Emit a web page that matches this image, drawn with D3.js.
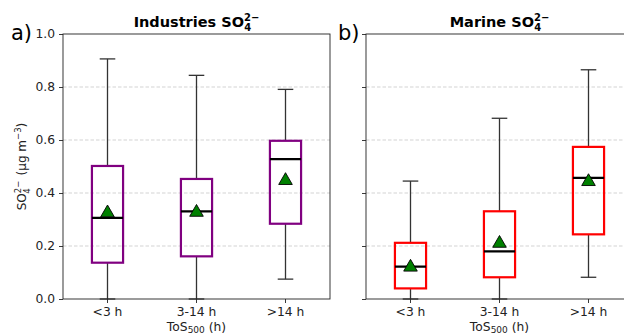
<!DOCTYPE html>
<html>
<head>
<meta charset="utf-8">
<script src="https://cdn.jsdelivr.net/npm/d3@7"></script>
<style>
  html, body { margin: 0; padding: 0; background: #fff; }
  svg { display: block; font-family: "DejaVu Sans", sans-serif; }
</style>
</head>
<body>
<svg id="chart" width="624" height="335"></svg>
<script>
// Time-over-source categories
const categories = ["<3 h", "3-14 h", ">14 h"];
const yTicks = [0.0, 0.2, 0.4, 0.6, 0.8, 1.0];

// Industries sulfate box statistics per category
const indWhiskerLow  = [0.0, 0.0, 0.075];
const indQ1          = [0.137, 0.161, 0.284];
const indMedian      = [0.306, 0.331, 0.528];
const indQ3          = [0.502, 0.453, 0.597];
const indWhiskerHigh = [0.906, 0.844, 0.791];
const indMean        = [0.325, 0.327, 0.447];

// Marine sulfate box statistics per category
const marWhiskerLow  = [0.0, 0.0, 0.082];
const marQ1          = [0.040, 0.082, 0.244];
const marMedian      = [0.122, 0.180, 0.457];
const marQ3          = [0.212, 0.331, 0.574];
const marWhiskerHigh = [0.445, 0.682, 0.865];
const marMean        = [0.120, 0.210, 0.443];

const panels = [
  { letter: "a)", title: "Industries", color: "#800080", x0: 63, x1: 330, showY: true,
    lo: indWhiskerLow, q1: indQ1, med: indMedian, q3: indQ3, hi: indWhiskerHigh, mean: indMean },
  { letter: "b)", title: "Marine", color: "#ff0000", x0: 366, x1: 633, showY: false,
    lo: marWhiskerLow, q1: marQ1, med: marMedian, q3: marQ3, hi: marWhiskerHigh, mean: marMean }
];

const svg = d3.select("#chart");
const yTop = 34, yBottom = 299;
const y = d3.scaleLinear().domain([0, 1]).range([yBottom, yTop]);

panels.forEach(p => {
  const x = d3.scaleBand().domain(categories).range([p.x0, p.x1]).paddingInner(0.65).paddingOuter(0.325);
  const cx = c => x(c) + x.bandwidth() / 2;
  const bw = x.bandwidth();
  const g = svg.append("g");

  // dashed horizontal grid
  g.append("g").selectAll("line").data(yTicks.filter(t => t > 0 && t < 1)).join("line")
    .attr("x1", p.x0).attr("x2", p.x1)
    .attr("y1", d => y(d)).attr("y2", d => y(d))
    .attr("stroke", "#c8c8c8").attr("stroke-width", 0.8).attr("stroke-dasharray", "3.5,2");

  // axes
  const yAxis = d3.axisLeft(y).tickValues(yTicks).tickSize(4).tickPadding(4)
    .tickFormat(p.showY ? d3.format(".1f") : () => "");
  const ya = g.append("g").attr("transform", `translate(${p.x0},0)`).call(yAxis);
  const xAxis = d3.axisBottom(x).tickSize(4).tickPadding(4);
  const xa = g.append("g").attr("transform", `translate(0,${yBottom})`).call(xAxis);
  [ya, xa].forEach(a => {
    a.select(".domain").remove();
    a.selectAll("line").attr("stroke", "#222").attr("stroke-width", 0.9);
    a.selectAll("text").attr("font-size", 12.3).attr("fill", "#222")
      .attr("font-family", "DejaVu Sans, sans-serif");
  });

  // box plot marks
  const idx = categories.map((c, i) => i);
  const b = g.append("g");
  // whiskers
  b.selectAll(".wl").data(idx).join("line")
    .attr("x1", i => cx(categories[i])).attr("x2", i => cx(categories[i]))
    .attr("y1", i => y(p.lo[i])).attr("y2", i => y(p.q1[i]))
    .attr("stroke", "#333").attr("stroke-width", 1.3);
  b.selectAll(".wh").data(idx).join("line")
    .attr("x1", i => cx(categories[i])).attr("x2", i => cx(categories[i]))
    .attr("y1", i => y(p.q3[i])).attr("y2", i => y(p.hi[i]))
    .attr("stroke", "#333").attr("stroke-width", 1.3);
  // caps
  [p.lo, p.hi].forEach(arr => {
    b.selectAll(null).data(idx).join("line")
      .attr("x1", i => cx(categories[i]) - bw / 4).attr("x2", i => cx(categories[i]) + bw / 4)
      .attr("y1", i => y(arr[i])).attr("y2", i => y(arr[i]))
      .attr("stroke", "#333").attr("stroke-width", 1.3);
  });
  // boxes
  b.selectAll("rect").data(idx).join("rect")
    .attr("x", i => x(categories[i])).attr("width", bw)
    .attr("y", i => y(p.q3[i])).attr("height", i => y(p.q1[i]) - y(p.q3[i]))
    .attr("fill", "none").attr("stroke", p.color).attr("stroke-width", 2.2);
  // medians
  b.selectAll(".med").data(idx).join("line")
    .attr("x1", i => x(categories[i])).attr("x2", i => x(categories[i]) + bw)
    .attr("y1", i => y(p.med[i])).attr("y2", i => y(p.med[i]))
    .attr("stroke", "#000").attr("stroke-width", 2.2);
  // means
  const tri = d3.symbol().type(d3.symbolTriangle).size(80);
  b.selectAll("path").data(idx).join("path")
    .attr("d", tri)
    .attr("transform", i => `translate(${cx(categories[i])},${y(p.mean[i])})`)
    .attr("fill", "#008000").attr("stroke", "#000").attr("stroke-width", 0.9);

  // frame
  g.append("rect").attr("x", p.x0).attr("y", yTop).attr("width", p.x1 - p.x0).attr("height", yBottom - yTop)
    .attr("fill", "none").attr("stroke", "#222").attr("stroke-width", 0.9);

  // title with sulfate formula
  const t = g.append("text").attr("x", (p.x0 + p.x1) / 2).attr("y", 27)
    .attr("text-anchor", "middle").attr("font-size", 14.5).attr("font-weight", "bold").attr("fill", "#000");
  t.append("tspan").text(p.title + " SO");
  t.append("tspan").attr("font-size", 10).attr("dy", -6).text("2\u2212");
  t.append("tspan").attr("font-size", 10).attr("dx", -15).attr("dy", 10).text("4");
  t.append("tspan").attr("font-size", 10).attr("dx", 6).attr("dy", -4).text("\u200a");

  // panel letter
  g.append("text").attr("x", p.x0 - (p.showY ? 52 : 28)).attr("y", 40)
    .attr("font-size", 21).attr("fill", "#000").text(p.letter);

  // x axis title
  const xl = g.append("text").attr("x", (p.x0 + p.x1) / 2).attr("y", 330.5)
    .attr("text-anchor", "middle").attr("font-size", 12.3).attr("fill", "#222");
  xl.append("tspan").text("ToS");
  xl.append("tspan").attr("font-size", 9).attr("dy", 2.5).text("500");
  xl.append("tspan").attr("dy", -2.5).text(" (h)");
});

// y axis title
const yl = svg.append("text")
  .attr("transform", `translate(26,${(yTop + yBottom) / 2}) rotate(-90)`)
  .attr("text-anchor", "middle").attr("font-size", 12).attr("fill", "#222");
yl.append("tspan").text("SO");
yl.append("tspan").attr("font-size", 8.5).attr("dy", -5).text("2\u2212");
yl.append("tspan").attr("font-size", 8.5).attr("dx", -13).attr("dy", 9).text("4");
yl.append("tspan").attr("dx", 9).attr("dy", -4).text(" (\u03bcg m");
yl.append("tspan").attr("font-size", 8.5).attr("dy", -5).text("\u22123");
yl.append("tspan").attr("dy", 5).text(")");
</script>
</body>
</html>
